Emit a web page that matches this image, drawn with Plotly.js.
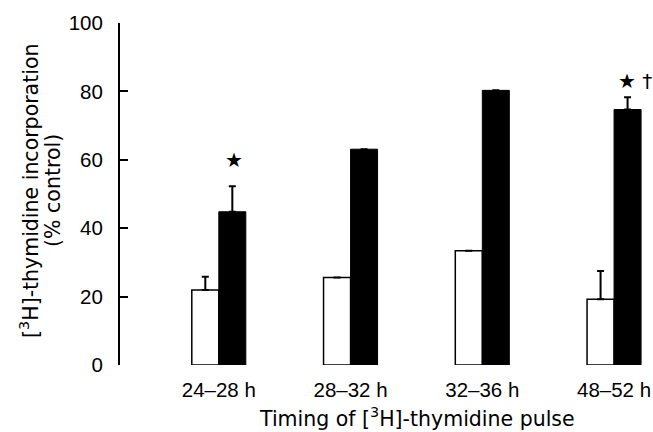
<!DOCTYPE html>
<html>
<head>
<meta charset="utf-8">
<script src="https://cdn.plot.ly/plotly-3.0.1.min.js"></script>
<style>html,body{margin:0;padding:0;background:#fff;}#chart{width:653px;height:432px;}</style>
</head>
<body>
<div id="chart"></div>
<script>
const categories = ['24–28 h', '28–32 h', '32–36 h', '48–52 h'];
const controlValues = [21.9, 25.6, 33.4, 19.2];
const controlErrors = [3.9, 0, 0, 8.3];
const treatedValues = [44.8, 63.1, 80.3, 74.7];
const treatedErrors = [7.5, 0, 0, 3.6];
const sigLabels = ['★', '', '', '★ †'];
const sigY = [60, 0, 0, 83];
const yTicks = [0, 20, 40, 60, 80, 100];
const xTitle = 'Timing of [<sup>3</sup>H]-thymidine pulse';
const yTitleLines = ['[<sup>3</sup>H]-thymidine incorporation', '(% control)'];

const font = 'Liberation Sans, Arial, sans-serif';
const titleFont = 'DejaVu Sans, sans-serif';

const traces = [
  {
    type: 'bar', x: categories, y: controlValues,
    marker: {color: '#ffffff', line: {color: '#000000', width: 1.5}},
    error_y: {type: 'data', array: controlErrors, arrayminus: controlErrors.map(() => 0), symmetric: false,
              color: '#000000', thickness: 2, width: 3.5},
    showlegend: false, hoverinfo: 'skip'
  },
  {
    type: 'bar', x: categories, y: treatedValues,
    marker: {color: '#000000', line: {color: '#000000', width: 1}},
    error_y: {type: 'data', array: treatedErrors, arrayminus: treatedErrors.map(() => 0), symmetric: false,
              color: '#000000', thickness: 2, width: 3.5},
    showlegend: false, hoverinfo: 'skip'
  }
];

const annotations = [];
categories.forEach((c, i) => {
  if (sigLabels[i]) {
    annotations.push({
      x: c, y: sigY[i], xref: 'x', yref: 'y', text: sigLabels[i], showarrow: false,
      xanchor: 'center', yanchor: 'middle', xshift: sigLabels[i].length > 1 ? 21 : 15,
      font: {family: 'DejaVu Sans, sans-serif', size: 20, color: '#000'}
    });
  }
});
// x-axis title
annotations.push({
  x: 0.5636, y: 0, xref: 'paper', yref: 'paper', text: xTitle, showarrow: false,
  xanchor: 'center', yanchor: 'top', yshift: -38, borderpad: 0,
  font: {family: titleFont, size: 20.5, color: '#000'}
});
// y-axis title (two lines)
yTitleLines.forEach((t, i) => {
  annotations.push({
    x: 0, y: 0.509, xref: 'paper', yref: 'paper', text: t, showarrow: false, textangle: -90,
    xanchor: 'center', yanchor: 'middle', xshift: i === 0 ? -90 : -67,
    font: {family: titleFont, size: 20.5, color: '#000'}
  });
});

const layout = {
  width: 653, height: 432,
  margin: {l: 120, r: 6, t: 23, b: 67},
  paper_bgcolor: '#fff', plot_bgcolor: '#fff',
  barmode: 'group', bargap: 0.59, bargroupgap: 0,
  font: {family: font, size: 20, color: '#000'},
  xaxis: {
    type: 'category', range: [-0.75, 3.25],
    showline: false, ticks: '', showgrid: false, zeroline: false,
    tickfont: {family: font, size: 20.5, color: '#000'},
    ticklabelstandoff: 10
  },
  yaxis: {
    range: [0, 100], tickvals: yTicks, ticktext: yTicks.map(String),
    showline: true, linecolor: '#000', linewidth: 2,
    ticks: 'inside', ticklen: 8, tickwidth: 2, tickcolor: '#000',
    showgrid: false, zeroline: false,
    tickfont: {family: font, size: 20.5, color: '#000'},
    ticklabelstandoff: 11
  },
  annotations: annotations
};

Plotly.newPlot('chart', traces, layout, {staticPlot: true, displayModeBar: false});
</script>
</body>
</html>
